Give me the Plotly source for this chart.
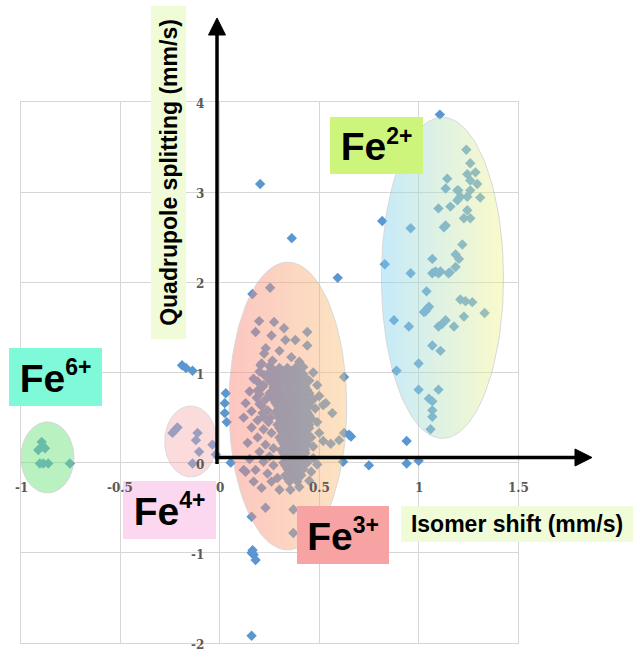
import numpy as np
import plotly.graph_objects as go

# ---- Mossbauer parameters (mm/s): isomer shift vs quadrupole splitting ----
fe6_shift = [-0.896, -0.879, -0.913, -0.890, -0.905, -0.888, -0.863, -0.754]
fe6_split = [0.23, 0.16, 0.14, 0.18, -0.01, -0.01, -0.01, -0.01]

fe4_shift = [-0.238, -0.213, -0.226, -0.112, -0.120, -0.104, -0.137, -0.037, -0.020]
fe4_split = [0.33, 0.39, 0.36, 0.33, 0.25, 0.12, -0.01, 0.20, 0.09]

# dense Fe3+ core, one list of shifts per splitting row
fe3_core_split = [1.05, 0.98, 0.91, 0.84, 0.77, 0.70, 0.63, 0.56, 0.49, 0.42,
                  0.35, 0.28, 0.21, 0.14, 0.07, 0.00, -0.07, -0.14, -0.21,
                  1.015, 0.945, 0.875, 0.805, 0.735, 0.665, 0.595, 0.525, 0.455,
                  0.385, 0.315, 0.245, 0.175, 0.105, 0.035, -0.035, -0.105, -0.175]
fe3_core_shift = [
    [0.26, 0.30, 0.34, 0.38],
    [0.24, 0.27, 0.31, 0.35, 0.39, 0.42],
    [0.25, 0.29, 0.33, 0.37, 0.41, 0.45],
    [0.27, 0.31, 0.35, 0.39, 0.43],
    [0.25, 0.29, 0.33, 0.37, 0.41, 0.45],
    [0.27, 0.31, 0.35, 0.39, 0.43, 0.47],
    [0.29, 0.33, 0.37, 0.41, 0.45],
    [0.28, 0.32, 0.36, 0.40, 0.44],
    [0.30, 0.34, 0.38, 0.42, 0.46],
    [0.29, 0.33, 0.37, 0.41, 0.45],
    [0.31, 0.35, 0.39, 0.43],
    [0.30, 0.34, 0.38, 0.42, 0.46],
    [0.32, 0.36, 0.40, 0.44],
    [0.31, 0.35, 0.39, 0.43],
    [0.33, 0.37, 0.41],
    [0.32, 0.36, 0.40, 0.44],
    [0.34, 0.38, 0.42],
    [0.33, 0.37, 0.41],
    [0.35, 0.39],
    [0.28, 0.32, 0.36, 0.40],
    [0.26, 0.30, 0.34, 0.38, 0.43],
    [0.27, 0.31, 0.35, 0.39, 0.43],
    [0.28, 0.32, 0.36, 0.40, 0.44],
    [0.26, 0.30, 0.34, 0.38, 0.42],
    [0.28, 0.32, 0.36, 0.40, 0.44],
    [0.30, 0.34, 0.38, 0.42],
    [0.30, 0.34, 0.38, 0.42, 0.45],
    [0.31, 0.35, 0.39, 0.43],
    [0.30, 0.34, 0.38, 0.42, 0.45],
    [0.33, 0.37, 0.41, 0.44],
    [0.31, 0.35, 0.39, 0.43],
    [0.33, 0.37, 0.41],
    [0.32, 0.36, 0.40, 0.43],
    [0.34, 0.38, 0.42],
    [0.33, 0.37, 0.41],
    [0.35, 0.39],
    [0.34, 0.38],
]

# scattered Fe3+ measurements around the core
fe3_shift = [
    0.253, 0.164, 0.198, 0.273, 0.180, 0.323, 0.260, 0.440, 0.330, 0.380, 0.440, 0.231,
    0.223, 0.300, 0.265, 0.360, 0.400, 0.420, 0.205, 0.470,
    0.170, 0.220, 0.190, 0.150, 0.185, 0.130, 0.200, 0.160, 0.215, 0.120, 0.190, 0.245,
    0.160, 0.220, 0.260, 0.190, 0.140, 0.230, 0.270, 0.200, 0.250, 0.150, 0.220, 0.270,
    0.180, 0.240, 0.290, 0.170, 0.260, 0.210,
    0.490, 0.500, 0.480, 0.520, 0.490, 0.500, 0.470, 0.520, 0.470, 0.490, 0.460, 0.450,
    0.566, 0.533, 0.558, 0.620, 0.600,
    0.300, 0.355, 0.400, 0.230, 0.370, 0.160, 0.370,
    0.210, 0.250, 0.200, 0.225, 0.190, 0.215, 0.200, 0.230, 0.210, 0.240, 0.220, 0.255,
]
fe3_split = [
    1.94, 1.87, 1.57, 1.56, 1.45, 1.49, 1.41, 1.45, 1.36, 1.36, 1.30, 1.27,
    1.21, 1.24, 1.13, 1.17, 1.12, 1.06, 1.08, 1.00,
    0.93, 0.86, 0.80, 0.79, 0.72, 0.66, 0.65, 0.57, 0.55, 0.50, 0.47, 0.45,
    0.39, 0.37, 0.33, 0.28, 0.22, 0.20, 0.16, 0.12, 0.07, 0.04, 0.01, -0.03,
    -0.08, -0.12, -0.17, -0.21, -0.21, -0.28,
    0.86, 0.74, 0.60, 0.64, 0.45, 0.33, 0.18, 0.24, 0.05, -0.02, -0.10, -0.20,
    0.55, 0.66, 0.21, 0.01, 0.25,
    -0.30, -0.30, -0.27, -0.50, -0.52, -0.60, -0.78,
    1.10, 1.07, 1.01, 0.97, 0.90, 0.84, 0.76, 0.70, 0.63, 0.58, 0.51, 0.50,
]

fe2_shift = [
    1.107, 1.240, 1.260, 1.245, 1.286, 1.144, 1.260, 1.295, 1.136, 1.195, 1.210, 1.260,
    1.245, 1.310, 1.160, 1.100, 1.245, 1.228, 1.260, 1.136, 0.817, 0.960, 1.220, 1.186,
    1.203, 1.069, 0.830, 0.960, 1.069, 1.110, 1.157, 1.186, 1.100, 1.150, 1.040, 1.210,
    1.236, 1.270, 1.052, 1.035, 1.027, 1.332, 1.228, 0.876, 0.951, 1.136, 1.119, 1.100,
    1.178, 1.069, 1.110, 1.000, 0.889, 1.000, 1.100, 1.052, 1.069, 1.069, 1.069, 1.060,
    1.127, 1.200, 1.195, 1.085, 1.044,
]
fe2_split = [
    3.86, 3.47, 3.32, 3.20, 3.22, 3.15, 3.13, 3.09, 3.04, 3.02, 2.95, 3.02,
    2.95, 2.94, 2.84, 2.82, 2.80, 2.71, 2.71, 2.63, 2.68, 2.60, 2.42, 2.31,
    2.26, 2.26, 2.20, 2.10, 2.10, 2.12, 2.11, 2.17, 2.10, 2.10, 1.90, 1.81,
    1.79, 1.78, 1.73, 1.68, 1.67, 1.66, 1.62, 1.58, 1.51, 1.58, 1.54, 1.51,
    1.51, 1.30, 1.24, 1.10, 1.02, 0.81, 0.81, 0.71, 0.68, 0.58, 0.51, 0.37,
    2.61, 3.02, 2.91, 2.12, 1.71,
]

other_shift = [-0.190, -0.170, -0.137, 0.030, 0.025, 0.025, 0.035, 0.055, 0.120,
               0.203, 0.362, 0.593, 0.625, 0.650, 0.625, 0.660, 0.750, 0.940, 0.940,
               1.000, 0.170, 0.180, 0.160, 0.165, 0.160, 0.130]
other_split = [1.08, 1.05, 1.02, 0.77, 0.66, 0.55, 0.45, 0.00, -0.08,
               3.09, 2.49, 2.05, 0.95, 0.31, 0.33, 0.29, -0.03, 0.24, -0.01,
               0.02, -1.02, -1.08, -1.00, -0.97, -1.92, -0.10]

# axis ticks
x_tick_vals = [-1, -0.5, 0, 0.5, 1, 1.5]
x_tick_text = ["-1", "-0.5", "0", "0.5", "1", "1.5"]
y_tick_vals = [-2, -1, 0, 1, 2, 3, 4]
y_tick_text = ["-2", "-1", "0", "1", "2", "3", "4"]

# oxidation-state regions: centre and half-axes in (mm/s)
regions = {
    "Fe6+": dict(cx=-0.867, cy=0.058, rx=0.133, ry=0.393),
    "Fe4+": dict(cx=-0.146, cy=0.235, rx=0.131, ry=0.393),
    "Fe3+": dict(cx=0.342, cy=0.628, rx=0.296, ry=1.595),
    "Fe2+": dict(cx=1.120, cy=2.050, rx=0.307, ry=1.780),
}

# ---- page geometry ----
W, H = 633, 651
L, R, T, B = 21, 518, 102, 643


def paper(xpx, ypx):
    return (xpx - L) / (R - L), (B - ypx) / (B - T)


fig = go.Figure()

core_x = [x for row in fe3_core_shift for x in row]
core_y = [y for row, y in zip(fe3_core_shift, fe3_core_split) for _ in row]

all_x = fe6_shift + fe4_shift + core_x + fe3_shift + fe2_shift + other_shift
all_y = fe6_split + fe4_split + core_y + fe3_split + fe2_split + other_split
fig.add_trace(go.Scatter(
    x=all_x, y=all_y, mode="markers",
    marker=dict(symbol="diamond", size=8, color="#5a97d0", line=dict(width=0)),
    hoverinfo="x+y", showlegend=False,
))


def ellipse(reg, n=120):
    t = np.linspace(0, 2 * np.pi, n)
    return reg["cx"] + reg["rx"] * np.cos(t), reg["cy"] + reg["ry"] * np.sin(t)


ellipse_styles = {
    "Fe6+": dict(fillcolor="rgb(120,228,130)", opacity=0.5),
    "Fe4+": dict(fillcolor="rgb(246,170,170)", opacity=0.42),
    "Fe3+": dict(fillgradient=dict(type="horizontal",
                                   colorscale=[[0, "rgb(250,130,120)"], [1, "rgb(250,195,120)"]]),
                 opacity=0.45),
    "Fe2+": dict(fillgradient=dict(type="horizontal",
                                   colorscale=[[0, "rgb(130,210,245)"], [1, "rgb(245,245,140)"]]),
                 opacity=0.45),
}

for name, reg in regions.items():
    ex, ey = ellipse(reg)
    st = ellipse_styles[name]
    kw = dict(x=ex, y=ey, mode="lines", fill="toself",
              line=dict(color="rgb(170,170,170)", width=1),
              opacity=st["opacity"], hoverinfo="skip", showlegend=False)
    if "fillgradient" in st:
        kw["fillgradient"] = st["fillgradient"]
    else:
        kw["fillcolor"] = st["fillcolor"]
    fig.add_trace(go.Scatter(**kw))

# ---- black axis arrows crossing at the origin ----
shapes = []
x0, y0 = paper(217, 464)
x1, y1 = paper(217, 33)
shapes.append(dict(type="line", xref="paper", yref="paper", x0=x0, y0=y0, x1=x1, y1=y1,
                   line=dict(color="black", width=3.5), layer="above"))
tx, ty = paper(217, 18)
ax_, ay_ = paper(208.5, 35)
bx_, by_ = paper(225.5, 35)
shapes.append(dict(type="path", xref="paper", yref="paper",
                   path=f"M{tx},{ty} L{ax_},{ay_} L{bx_},{by_} Z",
                   fillcolor="black", line=dict(color="black", width=1), layer="above"))
x0, y0 = paper(215.5, 457.5)
x1, y1 = paper(577, 457.5)
shapes.append(dict(type="line", xref="paper", yref="paper", x0=x0, y0=y0, x1=x1, y1=y1,
                   line=dict(color="black", width=3.5), layer="above"))
tx, ty = paper(592, 457.5)
ax_, ay_ = paper(575, 449)
bx_, by_ = paper(575, 466)
shapes.append(dict(type="path", xref="paper", yref="paper",
                   path=f"M{tx},{ty} L{ax_},{ay_} L{bx_},{by_} Z",
                   fillcolor="black", line=dict(color="black", width=1), layer="above"))

# ---- labels ----
annotations = []


def box_label(text, left, top, right, bottom, bg, size, angle=0):
    cx, cy = paper((left + right) / 2, (top + bottom) / 2)
    w, h = right - left, bottom - top
    if angle:
        w, h = h, w
    annotations.append(dict(
        xref="paper", yref="paper", x=cx, y=cy, xanchor="center", yanchor="middle",
        text=text, showarrow=False, bgcolor=bg, width=w, height=h, borderpad=0,
        borderwidth=0, textangle=angle, align="center", valign="middle",
        font=dict(family="Liberation Sans, Arial, sans-serif", size=size, color="black",
                  weight="bold"),
    ))


def ion(charge):
    return f"Fe<sup><span style=\"font-size:23px\">{charge}</span></sup>"


box_label("Quadrupole splitting (mm/s)", 151, 6, 186, 339, "#f0fcd8", 23, angle=-90)
box_label("Isomer shift (mm/s)", 401, 506, 633, 542, "#f0fcd8", 23)
box_label(ion("2+"), 330, 117, 423, 174, "#cdf57b", 39)
box_label(ion("6+"), 9, 348, 102, 406, "#7efad8", 39)
box_label(ion("4+"), 123, 481, 216, 539, "#fcd8f0", 39)
box_label(ion("3+"), 297, 506, 389, 564, "#f7a3a3", 39)

tick_font = dict(family="DejaVu Serif, serif", size=12, color="#5a5a5a", weight="bold")
for v, t in zip(x_tick_vals, x_tick_text):
    annotations.append(dict(xref="x", yref="y", x=v, y=0, text=t, showarrow=False,
                            xanchor="center", yanchor="middle", yshift=-25, font=tick_font))
for v, t in zip(y_tick_vals, y_tick_text):
    annotations.append(dict(xref="x", yref="y", x=0, y=v, text=t, showarrow=False,
                            xanchor="right", yanchor="middle", xshift=-14, yshift=-2,
                            font=tick_font))

grid = "#d6d6d6"
fig.update_layout(
    width=W, height=H,
    margin=dict(l=L, r=W - R, t=T, b=H - B, pad=0),
    paper_bgcolor="white", plot_bgcolor="white",
    xaxis=dict(range=[-1, 1.5], tick0=-1, dtick=0.5, showgrid=True, gridcolor=grid,
               gridwidth=1.3, zeroline=False, showticklabels=False, ticks="",
               showline=True, mirror=True, linecolor=grid, linewidth=1.3, fixedrange=True),
    yaxis=dict(range=[-2, 4], tick0=-2, dtick=1, showgrid=True, gridcolor=grid,
               gridwidth=1.3, zeroline=False, showticklabels=False, ticks="",
               showline=True, mirror=True, linecolor=grid, linewidth=1.3, fixedrange=True),
    shapes=shapes,
    annotations=annotations,
    showlegend=False,
)

fig.write_html("out.html")
